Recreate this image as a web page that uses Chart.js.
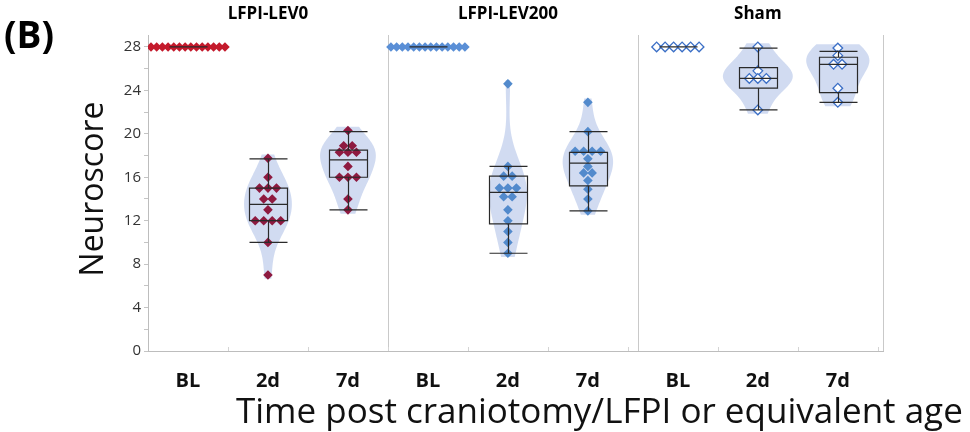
<!DOCTYPE html>
<html>
<head>
<meta charset="utf-8">
<script src="https://cdn.jsdelivr.net/npm/chart.js@4.4.1/dist/chart.umd.min.js"></script>
<style>
    html, body { margin: 0; padding: 0; background: #fff; }
    #wrap { position: relative; width: 970px; height: 432px; }
</style>
</head>
<body>
<div id="wrap"><canvas id="chart" width="970" height="432"></canvas></div>
<script>
const groups = ["LFPI-LEV0", "LFPI-LEV200", "Sham"];
const times = ["BL", "2d", "7d"];
const yTicks = [0, 2, 4, 6, 8, 10, 12, 14, 16, 18, 20, 22, 24, 26, 28];

// individual neuroscores
const lev0BL = [28, 28, 28, 28, 28, 28, 28, 28, 28, 28, 28, 28, 28, 28];
const lev0D2 = [17.75, 16, 15, 15, 15, 14, 14, 13, 12, 12, 12, 12, 10, 7];
const lev0D7 = [20.3, 18.9, 18.9, 18.3, 18.3, 18.3, 17, 16, 16, 16, 14, 13];
const lev200BL = [28, 28, 28, 28, 28, 28, 28, 28, 28, 28, 28, 28, 28, 28];
const lev200D2 = [24.6, 17, 16.1, 16.1, 15, 15, 15, 14.2, 14.2, 13, 12, 11, 10, 9];
const lev200D7 = [22.9, 20.2, 18.4, 18.4, 18.4, 18.4, 17.7, 17, 16.4, 16.4, 15.7, 14.9, 14, 12.9];
const shamBL = [28, 28, 28, 28, 28, 28];
const shamD2 = [28, 25.8, 25.1, 25.1, 25.1, 22.2];
const shamD7 = [27.9, 27.2, 26.4, 26.4, 24.2, 22.9];

// box stats as drawn: [q1, median, q3, whisker low, whisker high]
const lev0Box = [[28, 28, 28, 28, 28], [12, 13.5, 15, 10, 17.7], [16, 17.6, 18.5, 13, 20.2]];
const lev200Box = [[28, 28, 28, 28, 28], [11.7, 14.6, 16.1, 9, 17], [15.2, 17.3, 18.3, 12.9, 20.2]];
const shamBox = [[28, 28, 28, 28, 28], [24.2, 25.1, 26.1, 22.2, 27.9], [23.8, 26.4, 27.05, 22.9, 27.6]];

const scores = [[lev0BL, lev0D2, lev0D7], [lev200BL, lev200D2, lev200D7], [shamBL, shamD2, shamD7]];
const boxes = [lev0Box, lev200Box, shamBox];

// layout of the three panels on one linear x axis (1 unit = one category slot)
const panelStart = [0, 3, 6.125];
const X_MAX = 9.19;
const PX = 80;           // approx px per x unit
const BOX_HALF = 19;     // px
const VIOLIN_K = 175;    // px per unit of density
const FONT = "'Open Sans', 'DejaVu Sans', sans-serif";

const dotFill = [["#c41a2c", "#8e1a40", "#8e1a40"], ["#5a8fd6", "#528acc", "#528acc"], ["#ffffff", "#ffffff", "#ffffff"]];
const dotLine = [["#c41a2c", "#8e1a40", "#8e1a40"], ["#5a8fd6", "#528acc", "#528acc"], ["#3b6fc6", "#3b6fc6", "#3b6fc6"]];

function xCenter(g, t) {
    return panelStart[g] + t + 0.5;
}

// spread equal values side by side
function swarm(vals, cx) {
    const counts = {};
    vals.forEach(v => { counts[v] = (counts[v] || 0) + 1; });
    const seen = {};
    return vals.map(v => {
        const k = counts[v];
        const i = seen[v] = (seen[v] === undefined ? 0 : seen[v] + 1);
        const sp = k > 1 ? Math.min(8.5, 74 / (k - 1)) : 0;
        return { x: cx + (i - (k - 1) / 2) * sp / PX, y: v };
    });
}

function kde(vals, h, yv) {
    let s = 0;
    vals.forEach(v => { s += Math.exp(-0.5 * ((yv - v) / h) ** 2); });
    return s / (vals.length * h * Math.sqrt(2 * Math.PI));
}

const datasets = [];
groups.forEach((gName, g) => {
    times.forEach((tName, t) => {
        datasets.push({
            label: gName + " " + tName,
            data: swarm(scores[g][t], xCenter(g, t)),
            pointStyle: "rectRot",
            pointRadius: 4.8,
            pointBorderWidth: g === 2 ? 1.3 : 0,
            backgroundColor: dotFill[g][t],
            borderColor: dotLine[g][t],
            showLine: false
        });
    });
});

const panelPlugin = {
    id: "panels",
    beforeDatasetsDraw(chart) {
        const { ctx, chartArea: a, scales: { x, y } } = chart;
        ctx.save();
        // panel dividers and right border
        ctx.strokeStyle = "#c9c9c9";
        ctx.lineWidth = 1;
        [panelStart[1], panelStart[2], X_MAX].forEach(v => {
            const px = Math.round(x.getPixelForValue(v)) + 0.5;
            ctx.beginPath();
            ctx.moveTo(px, a.top);
            ctx.lineTo(px, a.bottom);
            ctx.stroke();
        });
        // small category ticks on the bottom axis
        ctx.strokeStyle = "#d4d4d4";
        panelStart.forEach(p => {
            [1, 2, 3].forEach(t => {
                const px = Math.round(x.getPixelForValue(p + t)) + 0.5;
                ctx.beginPath();
                ctx.moveTo(px, a.bottom);
                ctx.lineTo(px, a.bottom - 4);
                ctx.stroke();
            });
        });
        // violins
        ctx.fillStyle = "rgba(198, 210, 237, 0.8)";
        scores.forEach((row, g) => {
            row.forEach((vals, t) => {
                const lo = Math.min(...vals), hi = Math.max(...vals);
                if (hi === lo) return;
                const n = vals.length;
                const mean = vals.reduce((s, v) => s + v, 0) / n;
                const sd = Math.sqrt(vals.reduce((s, v) => s + (v - mean) ** 2, 0) / (n - 1));
                const h = 1.06 * sd * Math.pow(n, -0.2);
                const cx = x.getPixelForValue(xCenter(g, t));
                const y0 = lo - 0.35, y1 = hi + 0.35;
                const steps = 80;
                const pts = [];
                for (let i = 0; i <= steps; i++) {
                    const yv = y0 + (y1 - y0) * i / steps;
                    pts.push([y.getPixelForValue(yv), kde(vals, h, yv) * VIOLIN_K]);
                }
                ctx.beginPath();
                pts.forEach(([py, w], i) => {
                    if (i === 0) ctx.moveTo(cx - w, py); else ctx.lineTo(cx - w, py);
                });
                for (let i = pts.length - 1; i >= 0; i--) ctx.lineTo(cx + pts[i][1], pts[i][0]);
                ctx.closePath();
                ctx.fill();
            });
        });
        ctx.restore();
    },
    afterDatasetsDraw(chart) {
        const { ctx, scales: { x, y } } = chart;
        ctx.save();
        ctx.strokeStyle = "#2a2a2a";
        ctx.lineWidth = 1.2;
        boxes.forEach((row, g) => {
            row.forEach(([q1, med, q3, wlo, whi], t) => {
                const cx = Math.round(x.getPixelForValue(xCenter(g, t))) + 0.5;
                const l = cx - BOX_HALF, r = cx + BOX_HALF;
                const Y = v => y.getPixelForValue(v);
                ctx.beginPath();
                ctx.moveTo(cx, Y(whi)); ctx.lineTo(cx, Y(q3));
                ctx.moveTo(cx, Y(q1)); ctx.lineTo(cx, Y(wlo));
                ctx.moveTo(l, Y(whi)); ctx.lineTo(r, Y(whi));
                ctx.moveTo(l, Y(wlo)); ctx.lineTo(r, Y(wlo));
                ctx.moveTo(l, Y(med)); ctx.lineTo(r, Y(med));
                ctx.rect(l, Y(q3), r - l, Y(q1) - Y(q3));
                ctx.stroke();
            });
        });
        ctx.restore();
    },
    afterDraw(chart) {
        const { ctx, scales: { x } } = chart;
        ctx.save();
        ctx.fillStyle = "#000";
        ctx.textBaseline = "alphabetic";
        ctx.textAlign = "left";
        ctx.font = "bold 37px " + FONT;
        ctx.fillText("(B)", 4, 48);
        ctx.textAlign = "center";
        ctx.font = "bold 17px " + FONT;
        groups.forEach((name, g) => {
            ctx.fillText(name, x.getPixelForValue(xCenter(g, 1)), 19);
        });
        ctx.textAlign = "left";
        ctx.font = "35px " + FONT;
        ctx.fillStyle = "#111";
        ctx.fillText("Time post craniotomy/LFPI or equivalent age", 236, 423);
        ctx.translate(103, 189);
        ctx.rotate(-Math.PI / 2);
        ctx.textAlign = "center";
        ctx.font = "32px " + FONT;
        ctx.fillText("Neuroscore", 0, 0);
        ctx.restore();
    }
};

new Chart(document.getElementById("chart"), {
    type: "scatter",
    data: { datasets },
    options: {
        responsive: false,
        devicePixelRatio: 1,
        animation: false,
        layout: { padding: { top: 35, right: 87, left: 0, bottom: 0 } },
        plugins: { legend: { display: false }, tooltip: { enabled: false } },
        scales: {
            x: {
                type: "linear",
                min: 0,
                max: X_MAX,
                afterBuildTicks: s => {
                    const ticks = [];
                    groups.forEach((_, g) => times.forEach((_, t) => ticks.push({ value: xCenter(g, t) })));
                    s.ticks = ticks;
                },
                afterFit: s => { s.height = 81; },
                ticks: {
                    autoSkip: false,
                    maxRotation: 0,
                    padding: 10,
                    color: "#111",
                    font: { family: FONT, size: 20, weight: "bold" },
                    callback: (v, i) => times[i % 3]
                },
                grid: { display: false },
                border: { color: "#bdbdbd" }
            },
            y: {
                min: 0,
                max: 29.1,
                afterBuildTicks: s => { s.ticks = yTicks.map(v => ({ value: v })); },
                afterFit: s => { s.width = 148; },
                ticks: {
                    autoSkip: false,
                    padding: 3,
                    color: "#333",
                    font: { family: FONT, size: 15 },
                    callback: v => (v % 4 === 0 ? v : "")
                },
                grid: { drawOnChartArea: false, drawTicks: true, tickLength: 4, color: "#c4c4c4" },
                border: { color: "#bdbdbd" }
            }
        }
    },
    plugins: [panelPlugin]
});
</script>
</body>
</html>
